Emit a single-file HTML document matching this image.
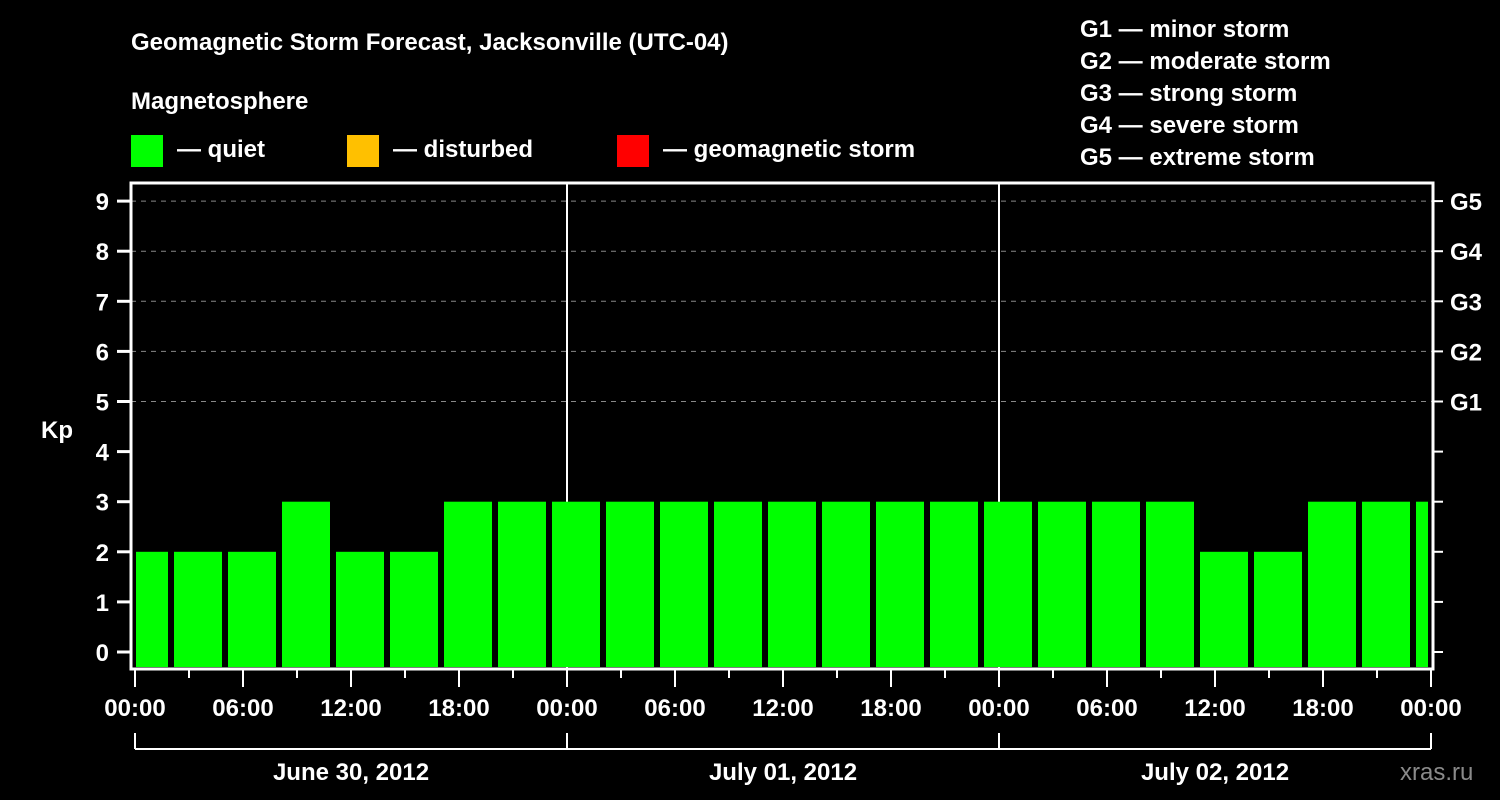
<!DOCTYPE html>
<html><head><meta charset="utf-8"><style>
html,body{margin:0;padding:0;background:#000;width:1500px;height:800px;overflow:hidden}
svg text{font-family:"Liberation Sans",Arial,sans-serif;font-weight:bold;fill:#fff}
</style></head><body>
<svg id="chart" width="1500" height="800" xmlns="http://www.w3.org/2000/svg">
<text x="131" y="50" font-size="24">Geomagnetic Storm Forecast, Jacksonville (UTC-04)</text>
<text x="131" y="109" font-size="24">Magnetosphere</text>
<g><rect x="131" y="135" width="32" height="32" fill="#00ff00"/><text x="177" y="157" font-size="24">— quiet</text></g>
<g><rect x="347" y="135" width="32" height="32" fill="#ffc000"/><text x="393" y="157" font-size="24">— disturbed</text></g>
<g><rect x="617" y="135" width="32" height="32" fill="#ff0000"/><text x="663" y="157" font-size="24">— geomagnetic storm</text></g>
<g font-size="24">
<text x="1080" y="37">G1 — minor storm</text>
<text x="1080" y="69">G2 — moderate storm</text>
<text x="1080" y="101">G3 — strong storm</text>
<text x="1080" y="133">G4 — severe storm</text>
<text x="1080" y="165">G5 — extreme storm</text>
</g>
<text x="41" y="438" font-size="24">Kp</text>
<text x="1400" y="780" font-size="24" fill="#888" style="fill:#8a8a8a;font-weight:normal">xras.ru</text>
<g id="grid"></g><g id="bars"></g><g id="axes"></g>
</svg>
<script>
const kpValues=[2,2,2,3,2,2,3,3,3,3,3,3,3,3,3,3,3,3,3,3,2,2,3,3,3];
const yTicks=[0,1,2,3,4,5,6,7,8,9];
const gLabels=["G1","G2","G3","G4","G5"];
const gLevels=[5,6,7,8,9];
const xTickLabels=["00:00","06:00","12:00","18:00","00:00","06:00","12:00","18:00","00:00","06:00","12:00","18:00","00:00"];
const dayLabels=["June 30, 2012","July 01, 2012","July 02, 2012"];
const NS="http://www.w3.org/2000/svg";
const X0=135,PXH=18,Y0=652,PXK=50.1;
const L=131,R=1433,T=183,B=669;
function xs(h){return X0+h*PXH}
function ys(k){return Y0-k*PXK}
function mk(tag,attrs,parent){const e=document.createElementNS(NS,tag);for(const k in attrs)e.setAttribute(k,attrs[k]);parent.appendChild(e);return e}
const grid=document.getElementById('grid'),bars=document.getElementById('bars'),axes=document.getElementById('axes');
gLevels.forEach((lv,i)=>{
 const l=mk('line',{x1:L,x2:R,y1:ys(lv),y2:ys(lv),stroke:'#888','stroke-dasharray':'5,5','stroke-width':1},grid);
 
 
 const t=mk('text',{x:1450,y:ys(lv)+9,'font-size':24},axes);t.textContent=gLabels[i];
 
 
});
// day separators
[1,2].forEach(d=>{const l=mk('line',{x1:xs(24*d),x2:xs(24*d),y1:T,y2:B,stroke:'#fff','stroke-width':2},grid);
 
 });
kpValues.forEach((v,k)=>{
 const c=3*k+0.5;let x1=xs(c)-24,x2=xs(c)+24;x1=Math.max(x1,136);x2=Math.min(x2,1428);
 const col=v>=5?'#ff0000':(v>=4?'#ffc000':'#00ff00');
 const r=mk('rect',{x:x1,y:ys(v),width:x2-x1,height:667-ys(v),fill:col},bars);
 
 
});
mk('path',{d:`M${L},${T}H${R}V${B}H${L}Z`,fill:'none',stroke:'#fff','stroke-width':3},axes);
yTicks.forEach(v=>{
 mk('line',{x1:L-14,x2:L,y1:ys(v),y2:ys(v),stroke:'#fff','stroke-width':3},axes);
 mk('line',{x1:R,x2:R+10,y1:ys(v),y2:ys(v),stroke:'#fff','stroke-width':2},axes);
 const t=mk('text',{x:L-22,y:ys(v)+9,'font-size':24,'text-anchor':'end'},axes);t.textContent=v;
 
 
});
for(let h=0;h<=72;h+=3){mk('line',{x1:xs(h),x2:xs(h),y1:B,y2:h%6?678:687,stroke:'#fff','stroke-width':2},axes);}
xTickLabels.forEach((s,i)=>{const t=mk('text',{x:xs(6*i),y:716,'font-size':24,'text-anchor':'middle'},axes);t.textContent=s;
 
 });
mk('line',{x1:xs(0),x2:xs(72),y1:749,y2:749,stroke:'#fff','stroke-width':2},axes);
for(let d=0;d<=3;d++)mk('line',{x1:xs(24*d),x2:xs(24*d),y1:733,y2:749,stroke:'#fff','stroke-width':2},axes);
dayLabels.forEach((s,i)=>{const t=mk('text',{x:xs(24*i+12),y:780,'font-size':24,'text-anchor':'middle'},axes);t.textContent=s;
 
 });
</script>
</body></html>
